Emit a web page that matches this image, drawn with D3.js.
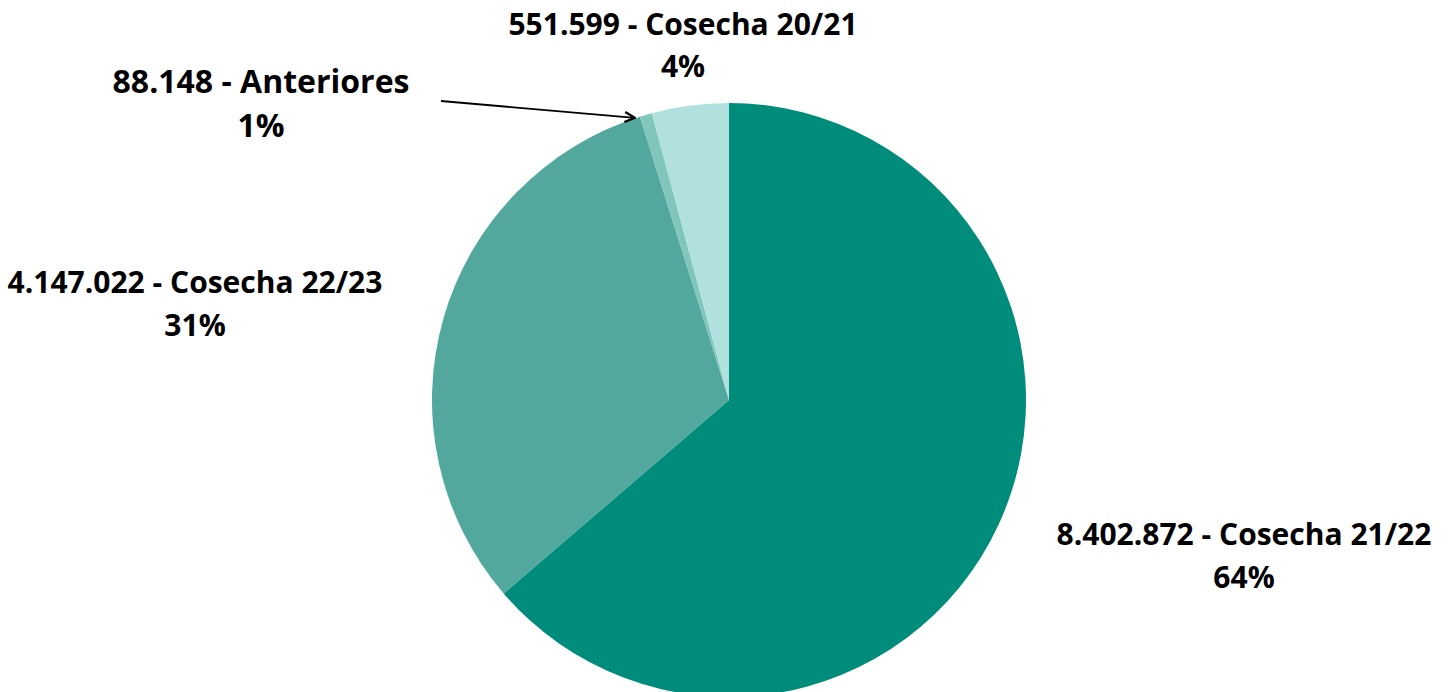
<!DOCTYPE html>
<html><head><meta charset="utf-8">
<script src="https://cdn.jsdelivr.net/npm/d3@7"></script>
<style>body{margin:0;background:#fff}svg{display:block}</style>
</head><body>
<svg id="c" width="1448" height="692"></svg>
<script>
const categories = ["Cosecha 21/22", "Cosecha 22/23", "Anteriores", "Cosecha 20/21"];
const values = [8402872, 4147022, 88148, 551599];
const percentLabels = ["64%", "31%", "1%", "4%"];
const valueLabels = ["8.402.872", "4.147.022", "88.148", "551.599"];

// styling / layout
const colors = ["#008c7a", "#52a89c", "#80c6bd", "#b0e1df"];
const labelBaselines = [[1244, 545, 588], [195, 293, 336], [261, 93, 137], [683, 35, 77]];
const labelSizes = [30, 30, 32, 30];

const svg = d3.select("#c");
const cx = 729, cy = 400, r = 297;
const pie = d3.pie().sort(null).value(d => d)(values);
const arc = d3.arc().innerRadius(0).outerRadius(r);
const g = svg.append("g").attr("transform", `translate(${cx},${cy})`);
g.selectAll("path").data(pie).enter().append("path")
  .attr("d", arc).attr("fill", (d, i) => colors[i]);

// arrow for Anteriores
svg.append("defs").append("marker").attr("id", "ah")
  .attr("viewBox", "0 0 10 10").attr("refX", 9).attr("refY", 5)
  .attr("markerWidth", 7).attr("markerHeight", 7).attr("orient", "auto")
  .append("path").attr("d", "M1,1 L9,5 L1,9").attr("fill", "none")
  .attr("stroke", "#000").attr("stroke-width", 1.8);
const a = pie[2];
const mid = (a.startAngle + a.endAngle) / 2;
const tip = [cx + Math.sin(mid) * r - 11, cy - Math.cos(mid) * r + 3];
svg.append("line").attr("x1", 441).attr("y1", 101).attr("x2", tip[0]).attr("y2", tip[1])
  .attr("stroke", "#000").attr("stroke-width", 1.8).attr("marker-end", "url(#ah)");

const lab = svg.selectAll("text.l").data(categories).enter().append("text")
  .attr("class", "l")
  .attr("text-anchor", "middle")
  .attr("font-family", "'Open Sans', sans-serif").attr("font-weight", 700)
  .attr("font-size", (d, i) => labelSizes[i]).attr("fill", "#000");
lab.append("tspan").attr("x", (d, i) => labelBaselines[i][0]).attr("y", (d, i) => labelBaselines[i][1])
  .text((d, i) => valueLabels[i] + " - " + d);
lab.append("tspan").attr("x", (d, i) => labelBaselines[i][0]).attr("y", (d, i) => labelBaselines[i][2])
  .text((d, i) => percentLabels[i]);
</script>
</body></html>
